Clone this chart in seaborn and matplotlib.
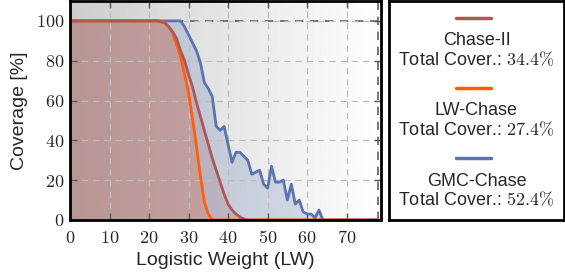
import numpy as np
import pandas as pd
import matplotlib
matplotlib.use("Agg")
import matplotlib.pyplot as plt
import seaborn as sns

# logistic weight steps
lw = np.arange(0, 79)

# coverage [%], one value per integer LW
chase2_head = [100] * 23 + [99.5, 99, 97, 94.5, 91, 85, 80, 73, 67, 59, 52, 45, 38,
                             31, 25, 19, 13, 8, 5, 3, 1.5, 0.5]
lwchase_head = [100] * 24 + [99, 97, 94, 88, 82, 73, 64, 51, 37, 22, 9, 3]
gmc_head = [100] * 29 + [97, 93, 89, 85, 79, 69, 66, 62, 47, 45, 47, 38, 29, 34, 34,
                         32, 30, 23, 24, 25, 18, 16, 27, 19, 19, 20, 10, 18, 8, 10,
                         4, 3, 3, 1, 5]

chase2 = chase2_head + [0] * (len(lw) - len(chase2_head))
lwchase = lwchase_head + [0] * (len(lw) - len(lwchase_head))
gmc = gmc_head + [0] * (len(lw) - len(gmc_head))

methods = ["Chase-II", "LW-Chase", "GMC-Chase"]
totals = ["34.4", "27.4", "52.4"]
colors = ["#ac5858", "#ff5f0a", "#5b74b0"]

df = pd.DataFrame({
    "LW": np.tile(lw, 3),
    "coverage": np.concatenate([chase2, lwchase, gmc]),
    "method": np.repeat(methods, len(lw)),
})

sns.set_style("ticks")
plt.rcParams["font.family"] = ["Liberation Sans", "DejaVu Sans"]
plt.rcParams["mathtext.fontset"] = "cm"

fig = plt.figure(figsize=(5.65, 2.79), dpi=100)
ax = fig.add_axes([70 / 565, 59 / 279, 311 / 565, 219 / 279])

# gray -> white background gradient
grad = np.linspace(0.80, 1.0, 256).reshape(1, -1)
ax.imshow(grad, cmap="gray", vmin=0, vmax=1, aspect="auto",
          extent=(0, 78.7, 0, 110), zorder=0)

for name, col in zip(methods, colors):
    sub = df[df["method"] == name]
    ax.fill_between(sub["LW"], 0, sub["coverage"], color=col, alpha=0.22,
                    lw=0, zorder=1)

sns.lineplot(data=df, x="LW", y="coverage", hue="method", hue_order=methods[::-1],
             palette=dict(zip(methods, colors)), lw=2.0, ax=ax, legend=False,
             zorder=3)

ax.set_xlim(0, 78.7)
ax.set_ylim(0, 110)
ax.grid(True, ls=(0, (5, 4)), color="#bdbdbd", lw=0.9, zorder=2)
ax.set_axisbelow(False)
ax.axhline(100, ls=(0, (5, 4)), color="#606060", lw=1.2, zorder=2)
ax.axvline(78, ls=(0, (5, 4)), color="#606060", lw=1.2, zorder=2)

xt = np.arange(0, 80, 10)
yt = np.arange(0, 101, 20)
ax.set_xticks(xt)
ax.set_yticks(yt)
ax.set_xticklabels([f"${v}$" for v in xt], fontsize=13)
ax.set_yticklabels([f"${v}$" for v in yt], fontsize=13)
ax.tick_params(direction="in", length=5, width=1, color="#555555",
               top=True, right=True, pad=4)
ax.tick_params(axis="x", pad=7)
for s in ax.spines.values():
    s.set_linewidth(2)
    s.set_color("black")
    s.set_zorder(5)

ax.set_xlabel("Logistic Weight (LW)", fontsize=14, labelpad=4)
ax.set_ylabel("Coverage [%]", fontsize=14, labelpad=6)

# legend box on the right
lg = fig.add_axes([389 / 565, 59 / 279, 175 / 565, 219 / 279])
lg.set_xlim(0, 1)
lg.set_ylim(220, 0)
lg.set_xticks([])
lg.set_yticks([])
for s in lg.spines.values():
    s.set_linewidth(2)
    s.set_color("black")
for i, (name, tot, col) in enumerate(zip(methods, totals, colors)):
    y0 = 17 + i * 70.5
    lg.plot([0.38, 0.58], [y0, y0], color=col, lw=2.5)
    lg.text(0.5, y0 + 23, name, ha="center", va="center", fontsize=13)
    lg.text(0.5, y0 + 42, "Total Cover.: $" + tot + r"\%$", ha="center",
            va="center", fontsize=13)

fig.savefig("out.png", dpi=100)
